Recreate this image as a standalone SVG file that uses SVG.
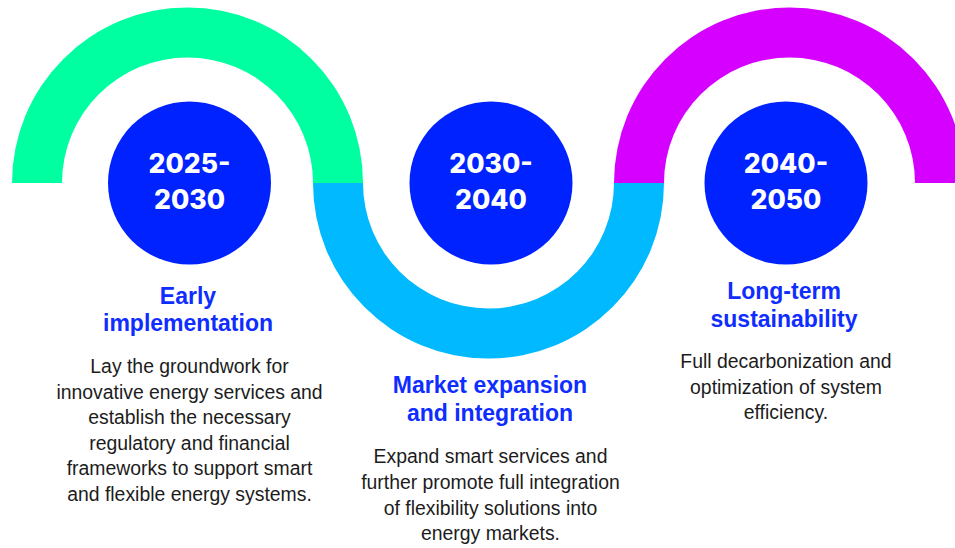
<svg xmlns="http://www.w3.org/2000/svg" width="955" height="548" viewBox="0 0 955 548">
  <style>
    .year { font-family: Inter, "Open Sans", "Liberation Sans", sans-serif; font-weight: 800; font-size: 26.5px; fill: #ffffff; text-anchor: middle; }
    .head { font-family: "Liberation Sans", Arial, sans-serif; font-weight: bold; font-size: 23px; fill: #0f2dff; text-anchor: middle; }
    .body { font-family: "Liberation Sans", Arial, sans-serif; font-size: 19.4px; fill: #1c1c1c; text-anchor: middle; }
    .dot { fill: #0022ff; }
  </style>

  <!-- serpentine track made of three half rings -->
  <g id="track">
    <path d="M 12 183 A 175.5 175.5 0 0 1 363 183 L 313 183 A 125.5 125.5 0 0 0 62 183 Z" fill="#00ffa0"/>
    <path d="M 313 183 A 175.5 175.5 0 0 0 664 183 L 614 183 A 125.5 125.5 0 0 1 363 183 Z" fill="#00b9ff"/>
    <path d="M 614 183 A 175.5 175.5 0 0 1 965 183 L 915 183 A 125.5 125.5 0 0 0 664 183 Z" fill="#d500ff"/>
  </g>

  <g id="stage-2025-2030">
    <circle class="dot" cx="189.5" cy="183" r="81.5"/>
    <text class="year" x="189.5" y="173">2025-</text>
    <text class="year" x="189.5" y="209">2030</text>
    <text class="head" x="188" y="304">Early</text>
    <text class="head" x="188" y="331">implementation</text>
    <text class="body" x="189.5" y="373">Lay the groundwork for</text>
    <text class="body" x="189.5" y="398.5">innovative energy services and</text>
    <text class="body" x="189.5" y="424">establish the necessary</text>
    <text class="body" x="189.5" y="449.5">regulatory and financial</text>
    <text class="body" x="189.5" y="475">frameworks to support smart</text>
    <text class="body" x="189.5" y="500.5">and flexible energy systems.</text>
  </g>

  <g id="stage-2030-2040">
    <circle class="dot" cx="491" cy="183" r="81.5"/>
    <text class="year" x="491" y="173">2030-</text>
    <text class="year" x="491" y="209">2040</text>
    <text class="head" x="490" y="393">Market expansion</text>
    <text class="head" x="490" y="421">and integration</text>
    <text class="body" x="490.5" y="463">Expand smart services and</text>
    <text class="body" x="490.5" y="489">further promote full integration</text>
    <text class="body" x="490.5" y="515">of flexibility solutions into</text>
    <text class="body" x="490.5" y="540">energy markets.</text>
  </g>

  <g id="stage-2040-2050">
    <circle class="dot" cx="786" cy="183" r="81.5"/>
    <text class="year" x="786" y="173">2040-</text>
    <text class="year" x="786" y="209">2050</text>
    <text class="head" x="784" y="299">Long-term</text>
    <text class="head" x="784" y="327">sustainability</text>
    <text class="body" x="786" y="368">Full decarbonization and</text>
    <text class="body" x="786" y="393.5">optimization of system</text>
    <text class="body" x="786" y="419">efficiency.</text>
  </g>
</svg>
